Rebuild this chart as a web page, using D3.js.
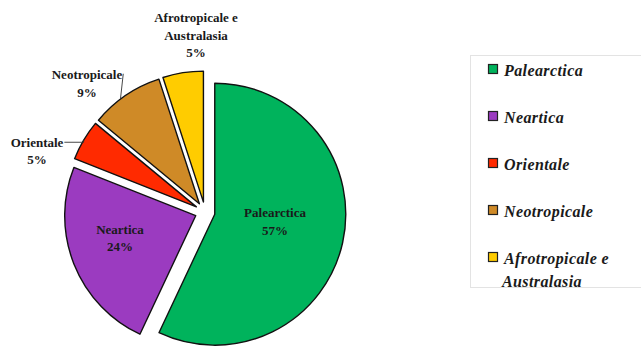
<!DOCTYPE html>
<html>
<head>
<meta charset="utf-8">
<script src="https://cdn.jsdelivr.net/npm/d3@7"></script>
<style>
  html, body { margin: 0; padding: 0; background: #fff; }
  svg { display: block; }
</style>
</head>
<body>
<svg id="chart" width="641" height="347"></svg>
<script>
// Regions and their share of species (%)
const regions = ["Palearctica", "Neartica", "Orientale", "Neotropicale", "Afrotropicale e Australasia"];
const shares = [57, 24, 5, 9, 5];
const colors = ["#00b35c", "#9b3bc0", "#ff2a00", "#cf8a27", "#ffcc00"];
// Label lines as printed on the slices and in the legend
const sliceLabelLines = [["Palearctica"], ["Neartica"], ["Orientale"], ["Neotropicale"], ["Afrotropicale e", "Australasia"]];
const legendLabelLines = [["Palearctica"], ["Neartica"], ["Orientale"], ["Neotropicale"], ["Afrotropicale e", "Australasia"]];

const cx = 205, cy = 212, R = 131, explode = 10;
const serif = "'Liberation Serif', 'Times New Roman', serif";

const svg = d3.select("#chart");

const pie = d3.pie().sort(null).value(d => d.v);
const arcs = pie(regions.map((r, i) => ({ name: r, v: shares[i], i })));
const arc = d3.arc().innerRadius(0).outerRadius(R);

// unit vector along a slice's bisector (screen coordinates)
function dir(a) {
  const m = (a.startAngle + a.endAngle) / 2;
  return [Math.sin(m), -Math.cos(m)];
}

const g = svg.append("g").attr("transform", `translate(${cx},${cy})`);

const slices = g.selectAll("g.slice").data(arcs).join("g")
  .attr("class", "slice")
  .attr("transform", d => { const [x, y] = dir(d); return `translate(${x * explode},${y * explode})`; });

slices.append("path")
  .attr("d", arc)
  .attr("fill", d => colors[d.data.i])
  .attr("stroke", "#111")
  .attr("stroke-width", 1.4)
  .attr("stroke-linejoin", "round");

// Label block centres, relative to the pie centre; outside labels get a leader line
const labelPlacement = [
  { x: 70, y: 9.5, leader: null },
  { x: -85, y: 26, leader: null },
  { x: -168, y: -61, leader: "elbow" },
  { x: -118, y: -128.5, leader: "straight" },
  { x: -9, y: -177, leader: null }
];

const fontSize = 13, lh = 17.5;

arcs.forEach((a, k) => {
  const p = labelPlacement[k];
  const [ux, uy] = dir(a);
  const ox = ux * explode, oy = uy * explode;
  const lx = p.x, ly = p.y;
  const lines = sliceLabelLines[k].concat([shares[k] + "%"]);
  const n = lines.length;
  const txt = g.append("text")
    .attr("font-family", serif)
    .attr("font-weight", "bold")
    .attr("font-size", fontSize)
    .attr("fill", "#1a1a1a")
    .attr("text-anchor", "middle");
  lines.forEach((s, j) => {
    txt.append("tspan")
      .attr("x", lx)
      .attr("y", ly + (j - (n - 1) / 2) * lh + fontSize * 0.35)
      .text(s);
  });

  if (p.leader) {
    const m = (a.startAngle + a.endAngle) / 2 - (p.leader === "straight" ? 0.05 : 0);
    const ex = ox + Math.sin(m) * R, ey = oy - Math.cos(m) * R;
    const firstY = ly - (n - 1) / 2 * lh;
    // leader starts at the right end of the region name
    const nameW = txt.select("tspan").node().getComputedTextLength();
    const sx = lx + nameW / 2 + 1;
    const pts = p.leader === "elbow"
      ? [[sx, firstY], [ex, firstY], [ex, ey]]
      : [[sx, firstY - 1], [ex, ey]];
    g.append("path")
      .attr("d", d3.line()(pts))
      .attr("fill", "none")
      .attr("stroke", "#333")
      .attr("stroke-width", 0.9);
  }
});

// Legend
const legend = svg.append("g");
legend.append("rect")
  .attr("x", 470.5).attr("y", 55.5)
  .attr("width", 180).attr("height", 232)
  .attr("fill", "#fff")
  .attr("stroke", "#e3e3e3")
  .attr("stroke-width", 1);

const legendY = d3.scalePoint().domain(d3.range(regions.length)).range([70, 258]);
regions.forEach((r, i) => {
  const y = legendY(i);
  legend.append("rect")
    .attr("x", 488.5).attr("y", y - 5.5)
    .attr("width", 9).attr("height", 9)
    .attr("fill", colors[i])
    .attr("stroke", "#222")
    .attr("stroke-width", 1.2);
  const t = legend.append("text")
    .attr("font-family", serif)
    .attr("font-weight", "bold")
    .attr("font-style", "italic")
    .attr("font-size", 16)
    .attr("letter-spacing", 0.4)
    .attr("fill", "#1a1a1a");
  legendLabelLines[i].forEach((s, j) => {
    t.append("tspan")
      .attr("x", j === 0 ? 504 : 502)
      .attr("y", y + 5.5 + j * 23)
      .text(s);
  });
});
</script>
</body>
</html>
